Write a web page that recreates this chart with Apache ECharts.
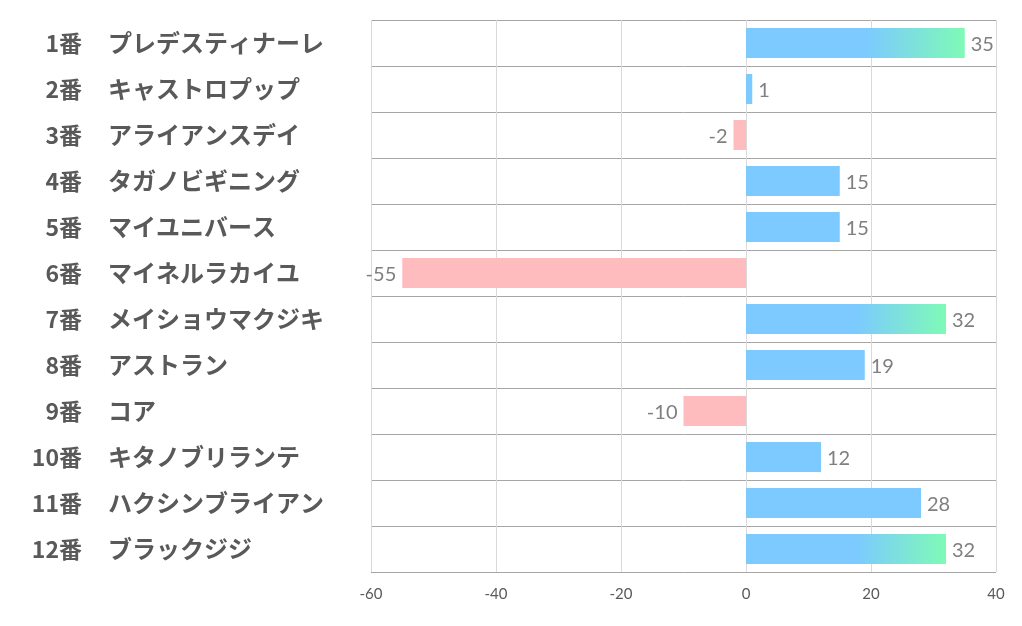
<!DOCTYPE html>
<html>
<head>
<meta charset="utf-8">
<script src="https://cdn.jsdelivr.net/npm/echarts@6/dist/echarts.min.js"></script>
<style>
  html, body { margin: 0; padding: 0; background: #fff; }
  #chart { width: 1022px; height: 626px; }
</style>
</head>
<body>
<div id="chart"></div>
<script>
// 馬番・馬名・値
var numbers = ['1番', '2番', '3番', '4番', '5番', '6番', '7番', '8番', '9番', '10番', '11番', '12番'];
var names = ['プレデスティナーレ', 'キャストロプップ', 'アライアンスデイ', 'タガノビギニング', 'マイユニバース',
  'マイネルラカイユ', 'メイショウマクジキ', 'アストラン', 'コア', 'キタノブリランテ', 'ハクシンブライアン', 'ブラックジジ'];
var values = [35, 1, -2, 15, 15, -55, 32, 19, -10, 12, 28, 32];
var xTicks = [-60, -40, -20, 0, 20, 40];

var BLUE = '#7ccaff';
var GREEN = '#7ffab6';
var PINK = '#ffbcbf';
var LABEL_FONT = '"Noto Sans CJK JP", sans-serif';

function barColor(v) {
  if (v < 0) return PINK;
  if (v >= 30) {
    return new echarts.graphic.LinearGradient(0, 0, 1, 0, [
      { offset: 0, color: BLUE },
      { offset: 0.55, color: BLUE },
      { offset: 1, color: GREEN }
    ]);
  }
  return BLUE;
}

var chart = echarts.init(document.getElementById('chart'));
chart.setOption({
  backgroundColor: '#ffffff',
  animation: false,
  grid: {
    left: 371,
    right: 26,
    top: 20,
    bottom: 54
  },
  xAxis: {
    type: 'value',
    min: xTicks[0],
    max: xTicks[xTicks.length - 1],
    interval: 20,
    axisLine: { show: false },
    axisTick: { show: false },
    axisLabel: {
      margin: 15,
      fontFamily: 'Lato, "Open Sans", sans-serif',
      fontSize: 15,
      color: '#595959'
    },
    splitLine: { show: true, lineStyle: { color: '#d9d9d9', width: 1 } }
  },
  yAxis: [{
    // 馬名（左揃え）
    type: 'category',
    inverse: true,
    data: names,
    axisLine: { show: false },
    axisTick: { show: false },
    splitLine: { show: true, lineStyle: { color: '#a6a6a6', width: 1 } },
    axisLabel: {
      margin: 263,
      align: 'left',
      fontFamily: LABEL_FONT,
      fontWeight: 'bold',
      fontSize: 24,
      color: '#595959'
    }
  }, {
    // 馬番（右揃え）
    type: 'category',
    position: 'left',
    inverse: true,
    data: numbers,
    axisLine: { show: false },
    axisTick: { show: false },
    splitLine: { show: false },
    axisLabel: {
      margin: 289,
      align: 'right',
      fontFamily: LABEL_FONT,
      fontWeight: 'bold',
      fontSize: 23,
      color: '#595959'
    }
  }],
  series: [{
    type: 'bar',
    yAxisIndex: 0,
    barWidth: 30,
    data: values.map(function (v) {
      return {
        value: v,
        itemStyle: { color: barColor(v) },
        label: { position: v < 0 ? 'left' : 'right' }
      };
    }),
    label: {
      show: true,
      distance: 6,
      offset: [0, 2],
      fontFamily: 'Lato, "Open Sans", sans-serif',
      fontSize: 20,
      color: '#7f7f7f'
    }
  }]
});
</script>
</body>
</html>
